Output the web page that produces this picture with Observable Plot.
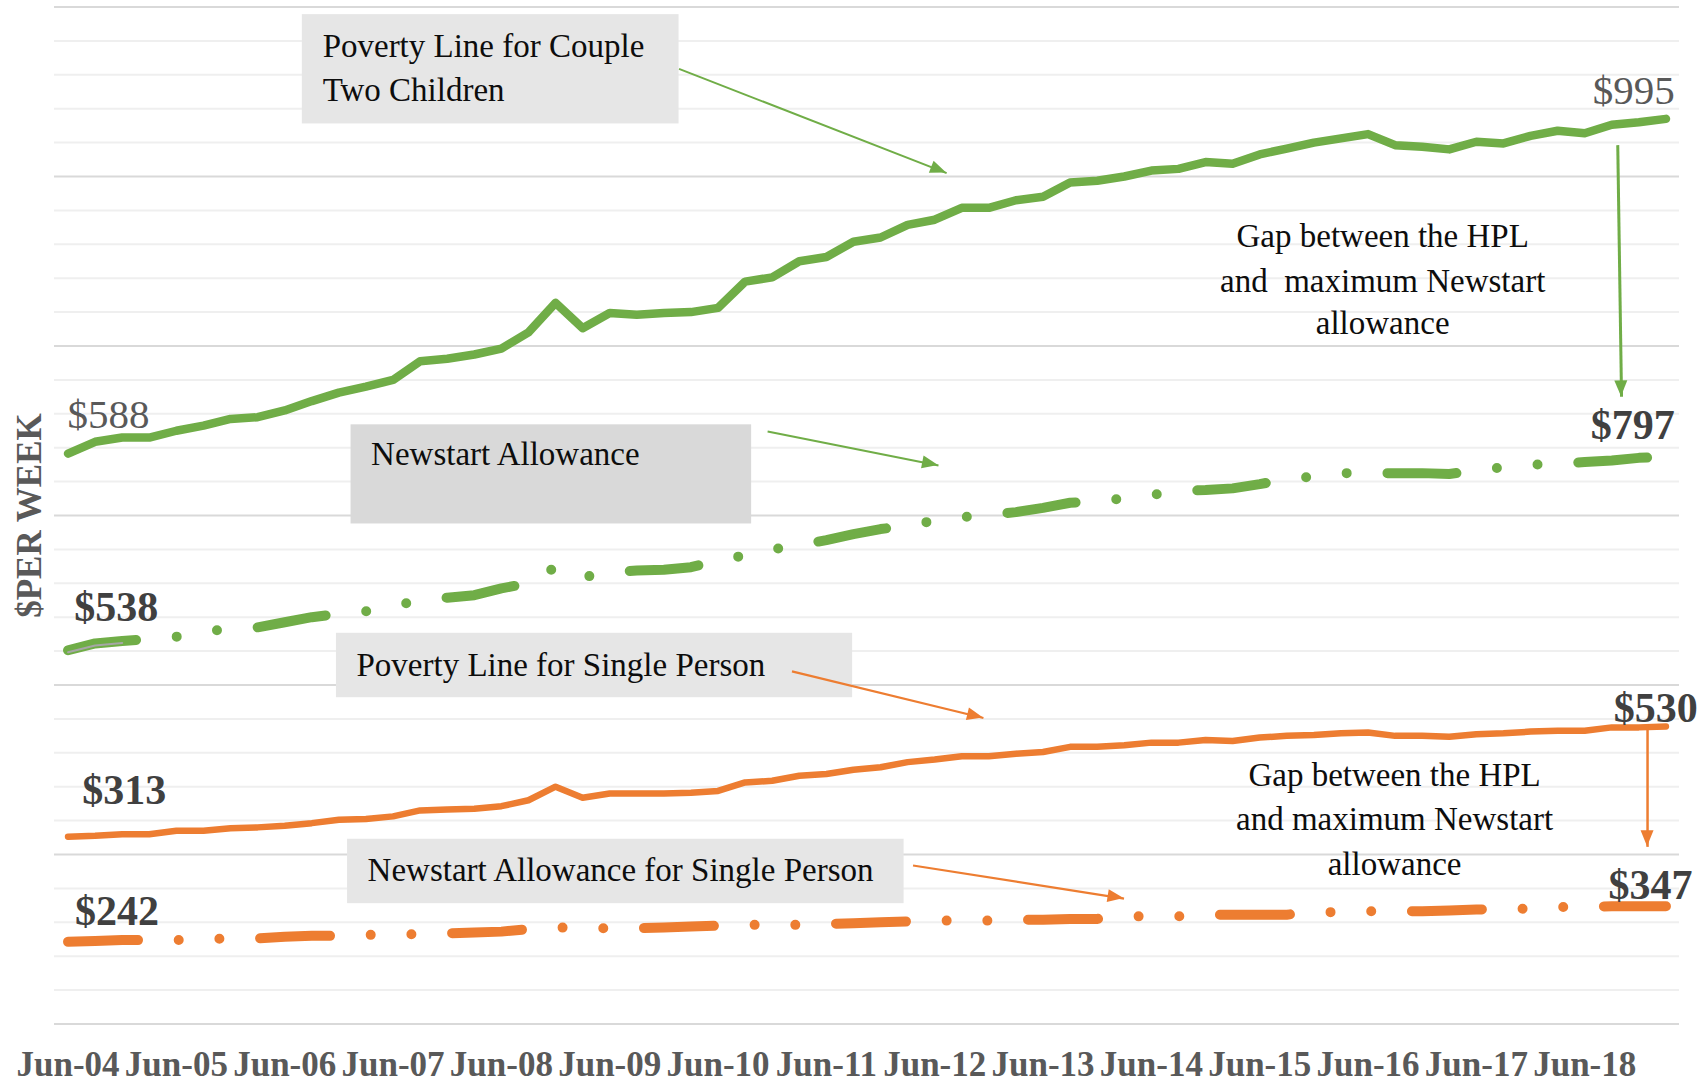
<!DOCTYPE html>
<html>
<head>
<meta charset="utf-8">
<script src="https://cdn.jsdelivr.net/npm/d3@7"></script>
<script src="https://cdn.jsdelivr.net/npm/@observablehq/plot@0.6"></script>
<style>
  html, body { margin: 0; padding: 0; background: #ffffff; }
  #chart svg { display: block; }
</style>
</head>
<body>
<div id="chart"></div>
<script>
// ---- Categories (quarterly) ----
const quarters = [
  "Jun-04","Sep-04","Dec-04","Mar-05","Jun-05","Sep-05","Dec-05","Mar-06",
  "Jun-06","Sep-06","Dec-06","Mar-07","Jun-07","Sep-07","Dec-07","Mar-08",
  "Jun-08","Sep-08","Dec-08","Mar-09","Jun-09","Sep-09","Dec-09","Mar-10",
  "Jun-10","Sep-10","Dec-10","Mar-11","Jun-11","Sep-11","Dec-11","Mar-12",
  "Jun-12","Sep-12","Dec-12","Mar-13","Jun-13","Sep-13","Dec-13","Mar-14",
  "Jun-14","Sep-14","Dec-14","Mar-15","Jun-15","Sep-15","Dec-15","Mar-16",
  "Jun-16","Sep-16","Dec-16","Mar-17","Jun-17","Sep-17","Dec-17","Mar-18",
  "Jun-18","Sep-18","Dec-18","Mar-19"
];
const tickLabels = ["Jun-04","Jun-05","Jun-06","Jun-07","Jun-08","Jun-09","Jun-10",
  "Jun-11","Jun-12","Jun-13","Jun-14","Jun-15","Jun-16","Jun-17","Jun-18"];

// ---- Series (chart units, axis 0–1200, unlabelled) ----
const hplCouple = [673,687,692,692,700,706,714,716,724,735,745,752,760,782,785,790,797,816,851,821,
  839,837,839,840,845,876,881,900,905,923,928,943,949,963,963,972,976,993,995,1000,
  1007,1009,1017,1015,1026,1033,1040,1045,1050,1037,1035,1032,1041,1039,1048,1054,1051,1061,1064,1068];
const newstartCouple = [441,449,452,454,457,463,466,468,474,480,484,487,493,500,503,506,514,520,539,527,
  533,535,536,539,547,553,560,565,571,578,584,588,594,598,601,604,609,615,617,620,
  624,629,630,632,637,643,646,650,650,650,650,649,653,657,660,661,663,665,668,669];
const hplSingle = [221,222,224,224,228,228,231,232,234,237,241,242,245,252,253,254,257,264,280,267,
  272,272,272,273,275,285,287,293,295,300,303,309,312,316,316,319,321,327,327,329,
  332,332,335,334,338,340,341,343,344,340,340,339,342,343,345,346,346,350,350,351];
const newstartSingle = [97,98,99,99,99,100,101,101,103,104,104,105,106,106,107,108,109,112,114,113,
  113,113,114,115,116,117,117,117,118,119,120,121,122,122,122,123,123,124,124,127,
  127,127,129,129,129,129,132,132,133,133,133,134,135,136,136,138,138,139,139,139];

// ---- Annotations (in chart coordinates: x = quarter index, y = chart units) ----
const boxes = [
  {x1: 8.65, x2: 22.56, y1: 1062, y2: 1191, fill: "#e6e6e6"},
  {x1: 10.45, x2: 25.24, y1: 590, y2: 707, fill: "#d9d9d9"},
  {x1: 9.91, x2: 28.97, y1: 385, y2: 461, fill: "#e6e6e6"},
  {x1: 10.32, x2: 30.87, y1: 142, y2: 218, fill: "#e6e6e6"}
];
const notes = [
  {x: 9.40, y: 1141, text: "Poverty Line for Couple", anchor: "start"},
  {x: 9.40, y: 1089, text: "Two Children", anchor: "start"},
  {x: 11.19, y: 659, text: "Newstart Allowance", anchor: "start"},
  {x: 10.65, y: 411, text: "Poverty Line for Single Person", anchor: "start"},
  {x: 11.06, y: 169, text: "Newstart Allowance for Single Person", anchor: "start"},
  {x: 48.54, y: 917, text: "Gap between the HPL", anchor: "middle"},
  {x: 48.54, y: 864, text: "and  maximum Newstart", anchor: "middle"},
  {x: 48.54, y: 814, text: "allowance", anchor: "middle"},
  {x: 48.98, y: 281, text: "Gap between the HPL", anchor: "middle"},
  {x: 48.98, y: 229, text: "and maximum Newstart", anchor: "middle"},
  {x: 48.98, y: 176, text: "allowance", anchor: "middle"}
];
const valueLabels = [
  {x: -0.02, y: 703, text: "$588", anchor: "start", bold: false},
  {x: 59.32, y: 1085, text: "$995", anchor: "end", bold: false},
  {x: 0.23, y: 475, text: "$538", anchor: "start", bold: true},
  {x: 59.32, y: 690, text: "$797", anchor: "end", bold: true},
  {x: 0.52, y: 260, text: "$313", anchor: "start", bold: true},
  {x: 60.17, y: 356, text: "$530", anchor: "end", bold: true},
  {x: 0.26, y: 117, text: "$242", anchor: "start", bold: true},
  {x: 59.98, y: 148, text: "$347", anchor: "end", bold: true}
];
const arrows = [
  {x1: 22.56, y1: 1127, x2: 32.44, y2: 1004, color: "#70ad47", w: 2},
  {x1: 25.83, y1: 699, x2: 32.14, y2: 659, color: "#70ad47", w: 2},
  {x1: 57.22, y1: 1037, x2: 57.36, y2: 740, color: "#70ad47", w: 3},
  {x1: 26.73, y1: 416, x2: 33.80, y2: 361, color: "#ed7d31", w: 2.2},
  {x1: 31.20, y1: 187, x2: 38.99, y2: 148, color: "#ed7d31", w: 2.2},
  {x1: 58.32, y1: 354, x2: 58.32, y2: 209, color: "#ed7d31", w: 2.5}
];
const gridValues = d3.range(0, 1201, 40);

const GREEN = "#70ad47", ORANGE = "#ed7d31";
const SERIF = "Liberation Serif, Times New Roman, serif";
const idx = (d, i) => i;

function textMarks(data, opts) {
  return ["start", "middle", "end"].map(a =>
    Plot.text(data.filter(d => d.anchor === a), {x: "x", y: "y", text: "text",
      textAnchor: a, lineAnchor: "bottom", fontFamily: SERIF, ...opts}));
}

const plot = Plot.plot({
  width: 1703,
  height: 1084,
  marginLeft: 54,
  marginRight: 24,
  marginTop: 6.5,
  marginBottom: 60.5,
  style: {background: "#ffffff", fontFamily: SERIF, overflow: "visible"},
  x: {type: "linear", domain: [-0.5, 59.5], axis: null},
  y: {type: "linear", domain: [0, 1200], axis: null},
  marks: [
    Plot.ruleY(gridValues.filter(v => v % 200 !== 0), {stroke: "#efefef", strokeWidth: 2}),
    Plot.ruleY(gridValues.filter(v => v % 200 === 0), {stroke: "#d9d9d9", strokeWidth: 2.2}),
    // series
    Plot.line(hplCouple, {x: idx, y: d => d, stroke: GREEN, strokeWidth: 8.5,
      strokeLinejoin: "round", strokeLinecap: "round"}),
    Plot.line(newstartCouple, {x: idx, y: d => d, stroke: GREEN, strokeWidth: 10,
      strokeLinejoin: "round", strokeLinecap: "round", strokeDasharray: "69 40.8 0 40.8 0 40.8"}),
    Plot.line(newstartCouple.slice(0, 3), {x: idx, y: d => d, stroke: "#a6a6a6", strokeWidth: 2, dy: 2}),
    Plot.line(hplSingle, {x: idx, y: d => d, stroke: ORANGE, strokeWidth: 6.5,
      strokeLinejoin: "round", strokeLinecap: "round"}),
    Plot.line(newstartSingle, {x: idx, y: d => d, stroke: ORANGE, strokeWidth: 10,
      strokeLinejoin: "round", strokeLinecap: "round", strokeDasharray: "70 40.7 0 40.7 0 40.7"}),
    // annotation boxes and texts
    Plot.rect(boxes, {x1: "x1", x2: "x2", y1: "y1", y2: "y2", fill: "fill"}),
    ...textMarks(notes, {fontSize: 33, fill: "#0d0d0d"}),
    ...textMarks(valueLabels.filter(d => !d.bold), {fontSize: 41, fill: "#595959"}),
    ...textMarks(valueLabels.filter(d => d.bold), {fontSize: 42, fontWeight: "bold", fill: "#404040"}),
    // arrow shafts
    Plot.link(arrows, {x1: "x1", y1: "y1", x2: "x2", y2: "y2", stroke: "color", strokeWidth: "w"}),
    // x tick labels
    Plot.text(tickLabels, {x: d => quarters.indexOf(d), frameAnchor: "bottom", dy: 51.5,
      text: d => d, textAnchor: "middle", lineAnchor: "bottom", fontSize: 35, fontWeight: "bold",
      fill: "#595959", fontFamily: SERIF}),
    // y title
    Plot.text(["$PER WEEK"], {frameAnchor: "left", dx: -25, rotate: -90, text: d => d,
      textAnchor: "middle", lineAnchor: "middle",
      fontSize: 35, fontWeight: "bold", fill: "#595959", fontFamily: SERIF})
  ]
});

// arrow heads, placed through the plot's own scales
const X = plot.scale("x"), Y = plot.scale("y");
const heads = d3.select(plot).append("g").attr("aria-label", "arrow heads");
for (const a of arrows) {
  const x1 = X.apply(a.x1), y1 = Y.apply(a.y1), x2 = X.apply(a.x2), y2 = Y.apply(a.y2);
  const L = Math.hypot(x2 - x1, y2 - y1), ux = (x2 - x1) / L, uy = (y2 - y1) / L;
  const hl = 16, hw = 6.5;
  const bx = x2 - ux * hl, by = y2 - uy * hl;
  heads.append("path")
    .attr("d", `M${x2},${y2}L${bx - uy * hw},${by + ux * hw}L${bx + uy * hw},${by - ux * hw}Z`)
    .attr("fill", a.color);
}

document.getElementById("chart").appendChild(plot);
</script>
</body>
</html>
